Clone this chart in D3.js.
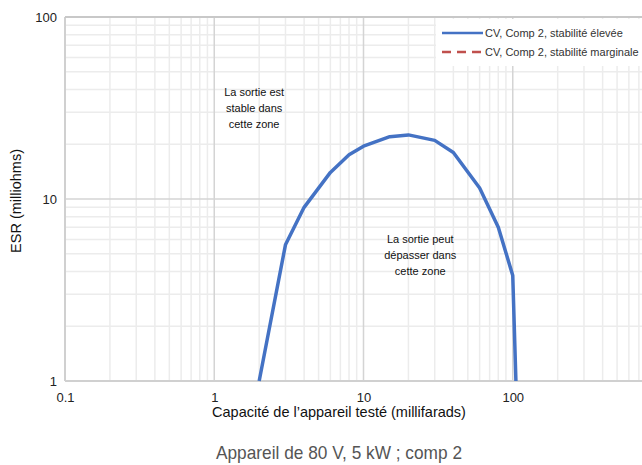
<!DOCTYPE html>
<html>
<head>
<meta charset="utf-8">
<script src="https://cdn.jsdelivr.net/npm/d3@7"></script>
<style>
  body { margin: 0; background: #fff; }
  text { font-family: "Liberation Sans", Arial, sans-serif; }
</style>
</head>
<body>
<div id="chart"></div>
<script>
// capacitance (mF) and ESR (milliohms)
const capacitance = [2, 3, 4, 6, 8, 10, 15, 20, 30, 40, 60, 80, 100, 105];
const esr = [1, 5.6, 9, 14, 17.5, 19.5, 22, 22.5, 21, 18, 11.5, 7, 3.8, 1];
const xTicks = [0.1, 1, 10, 100];
const yTicks = [1, 10, 100];
const seriesNames = ["CV, Comp 2, stabilité élevée", "CV, Comp 2, stabilité marginale"];
const stableNote = ["La sortie est", "stable dans", "cette zone"];
const overshootNote = ["La sortie peut", "dépasser dans", "cette zone"];

const width = 642;
const height = 465;
const margin = { top: 17, left: 65 };
const innerWidth = 597;
const innerHeight = 364;

const svg = d3.select("#chart")
  .append("svg")
  .attr("width", width)
  .attr("height", height);

const g = svg.append("g")
  .attr("transform", `translate(${margin.left}, ${margin.top})`);

const x = d3.scaleLog().domain([0.1, 1000]).range([0, innerWidth]);
const y = d3.scaleLog().domain([1, 100]).range([innerHeight, 0]);

// minor grid
const minorX = [];
const minorY = [];
for (let p = -1; p < 3; p++) {
  for (let k = 2; k <= 9; k++) minorX.push(k * Math.pow(10, p));
}
for (let p = 0; p < 2; p++) {
  for (let k = 2; k <= 9; k++) minorY.push(k * Math.pow(10, p));
}

g.selectAll(".minor-x").data(minorX).enter().append("line")
  .attr("x1", d => x(d)).attr("x2", d => x(d))
  .attr("y1", 0).attr("y2", innerHeight)
  .attr("stroke", "#ececec").attr("stroke-width", 1.5);

g.selectAll(".minor-y").data(minorY).enter().append("line")
  .attr("x1", 0).attr("x2", innerWidth)
  .attr("y1", d => y(d)).attr("y2", d => y(d))
  .attr("stroke", "#ececec").attr("stroke-width", 1.5);

// major grid
g.selectAll(".major-x").data(xTicks.slice(1).concat([1000])).enter().append("line")
  .attr("x1", d => x(d)).attr("x2", d => x(d))
  .attr("y1", 0).attr("y2", innerHeight)
  .attr("stroke", "#d4d4d4").attr("stroke-width", 1.5);

g.selectAll(".major-y").data(yTicks).enter().append("line")
  .attr("x1", 0).attr("x2", innerWidth)
  .attr("y1", d => y(d)).attr("y2", d => y(d))
  .attr("stroke", "#d4d4d4").attr("stroke-width", 1.5);

g.append("line")
  .attr("x1", 0).attr("x2", 0)
  .attr("y1", 0).attr("y2", innerHeight)
  .attr("stroke", "#d0d0d0").attr("stroke-width", 2);
g.append("line")
  .attr("x1", 0).attr("x2", innerWidth)
  .attr("y1", innerHeight).attr("y2", innerHeight)
  .attr("stroke", "#d0d0d0").attr("stroke-width", 2);
g.append("line")
  .attr("x1", 0).attr("x2", innerWidth)
  .attr("y1", 0).attr("y2", 0)
  .attr("stroke", "#c8c8c8").attr("stroke-width", 2);

// axes (labels only)
const xAxis = d3.axisBottom(x).tickValues(xTicks).tickSize(0).tickPadding(12)
  .tickFormat(d => d3.format("~g")(d));
const yAxis = d3.axisLeft(y).tickValues(yTicks).tickSize(0).tickPadding(8)
  .tickFormat(d => d3.format("~g")(d));

g.append("g")
  .attr("transform", `translate(0, ${innerHeight})`)
  .call(xAxis)
  .call(a => a.select(".domain").remove())
  .selectAll("text")
  .attr("font-size", 13).attr("fill", "#222")
  .attr("font-family", "Liberation Sans, Arial, sans-serif");

g.append("g")
  .call(yAxis)
  .call(a => a.select(".domain").remove())
  .selectAll("text")
  .attr("font-size", 13).attr("fill", "#222")
  .attr("font-family", "Liberation Sans, Arial, sans-serif");

// curve
const data = capacitance.map((c, i) => ({ c, r: esr[i] }));
const line = d3.line().x(d => x(d.c)).y(d => y(d.r));

g.append("path")
  .datum(data)
  .attr("fill", "none")
  .attr("stroke", "#4472c4")
  .attr("stroke-width", 3.5)
  .attr("stroke-linejoin", "round")
  .attr("d", line);

// annotations
const note = (lines, cx, cy) => {
  g.append("text")
    .attr("text-anchor", "middle")
    .attr("font-size", 11)
    .attr("fill", "#111")
    .selectAll("tspan")
    .data(lines).enter().append("tspan")
    .attr("x", x(cx))
    .attr("y", (d, i) => y(cy) + i * 16)
    .text(d => d);
};
note(stableNote, 1.85, 37);
note(overshootNote, 24, 5.7);

// legend
const legend = svg.append("g").attr("transform", "translate(436, 19)");
legend.append("rect")
  .attr("width", 210).attr("height", 47)
  .attr("fill", "#fff");
seriesNames.forEach((name, i) => {
  const ly = 14 + i * 19;
  legend.append("line")
    .attr("x1", 6).attr("x2", 47)
    .attr("y1", ly).attr("y2", ly)
    .attr("stroke", i === 0 ? "#4472c4" : "#c0504d")
    .attr("stroke-width", 2.5)
    .attr("stroke-dasharray", i === 0 ? null : "9,6");
  legend.append("text")
    .attr("x", 49).attr("y", ly + 4)
    .attr("font-size", 11)
    .attr("fill", "#333")
    .text(name);
});

// axis titles
svg.append("text")
  .attr("x", margin.left + 274).attr("y", 417)
  .attr("text-anchor", "middle")
  .attr("font-size", 14.5)
  .attr("fill", "#111")
  .text("Capacité de l’appareil testé (millifarads)");

svg.append("text")
  .attr("transform", `translate(21, ${margin.top + 184}) rotate(-90)`)
  .attr("text-anchor", "middle")
  .attr("font-size", 14.5)
  .attr("fill", "#111")
  .text("ESR (milliohms)");

svg.append("text")
  .attr("x", 339).attr("y", 459)
  .attr("text-anchor", "middle")
  .attr("font-family", "Roboto, sans-serif")
  .attr("font-weight", 300)
  .attr("font-size", 19)
  .attr("fill", "#555")
  .attr("textLength", 246)
  .attr("lengthAdjust", "spacingAndGlyphs")
  .text("Appareil de 80 V, 5 kW ; comp 2");
</script>
</body>
</html>
